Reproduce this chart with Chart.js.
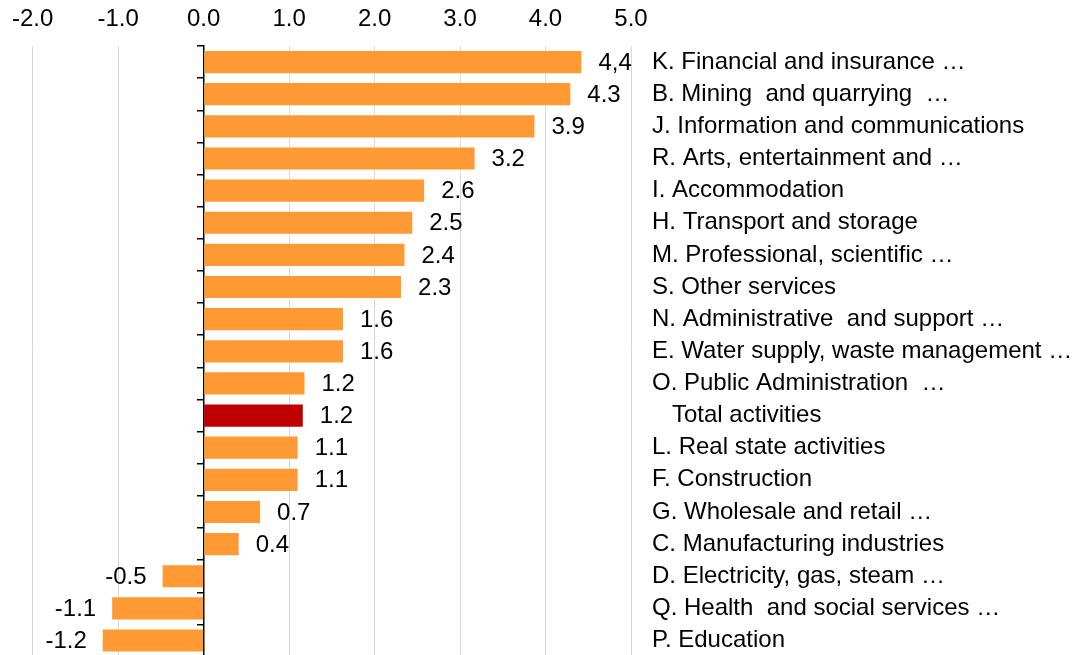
<!DOCTYPE html>
<html>
<head>
<meta charset="utf-8">
<script src="https://cdn.jsdelivr.net/npm/chart.js@4/dist/chart.umd.min.js"></script>
<style>
  html, body { margin: 0; padding: 0; background: #fff; overflow: hidden; }
  /* canvas is a little taller than the window: the scale padding below the
     last row is cut off so the bars run to the bottom edge like the original */
  #wrap { width: 1074px; height: 655px; overflow: hidden; }
</style>
</head>
<body>
<div id="wrap"><canvas id="chart" width="1074" height="684"></canvas></div>
<script>
// Sectors, top to bottom
const sectors = [
  'K. Financial and insurance \u2026',
  'B. Mining  and quarrying  \u2026',
  'J. Information and communications',
  'R. Arts, entertainment and \u2026',
  'I. Accommodation',
  'H. Transport and storage',
  'M. Professional, scientific \u2026',
  'S. Other services',
  'N. Administrative  and support \u2026',
  'E. Water supply, waste management \u2026',
  'O. Public Administration  \u2026',
  '   Total activities',
  'L. Real state activities',
  'F. Construction',
  'G. Wholesale and retail \u2026',
  'C. Manufacturing industries',
  'D. Electricity, gas, steam \u2026',
  'Q. Health  and social services \u2026',
  'P. Education'
];

// Growth values
const growth = [4.42, 4.29, 3.87, 3.17, 2.58, 2.44, 2.35, 2.31, 1.63, 1.63,
                1.18, 1.16, 1.10, 1.10, 0.66, 0.41, -0.48, -1.07, -1.18];

// Labels printed next to the bars
const valueLabels = ['4,4', '4.3', '3.9', '3.2', '2.6', '2.5', '2.4', '2.3', '1.6', '1.6',
                     '1.2', '1.2', '1.1', '1.1', '0.7', '0.4', '-0.5', '-1.1', '-1.2'];

const xTicks = [-2, -1, 0, 1, 2, 3, 4, 5];

const FONT = '"Liberation Sans", Arial, sans-serif';
const FONT_SIZE = 24;
const ORANGE = '#FF9933';
const TOTAL_RED = '#C00000';

const barColors = sectors.map(s => s.trim() === 'Total activities' ? TOTAL_RED : ORANGE);

// Draws the value next to the end of each bar
const valueLabelPlugin = {
  id: 'valueLabels',
  afterDatasetsDraw(chart) {
    const ctx = chart.ctx;
    const meta = chart.getDatasetMeta(0);
    const zero = chart.scales.x.getPixelForValue(0);
    ctx.save();
    ctx.font = FONT_SIZE + 'px ' + FONT;
    ctx.fillStyle = '#000';
    ctx.textBaseline = 'middle';
    meta.data.forEach((bar, i) => {
      const neg = bar.x < zero;
      ctx.textAlign = neg ? 'right' : 'left';
      ctx.fillText(valueLabels[i], neg ? bar.x - 16 : bar.x + 17, bar.y + 1);
    });
    ctx.restore();
  }
};

new Chart(document.getElementById('chart').getContext('2d'), {
  type: 'bar',
  data: {
    labels: sectors,
    datasets: [{
      data: growth,
      backgroundColor: barColors,
      borderWidth: 0,
      barPercentage: 0.69,
      categoryPercentage: 1
    }]
  },
  options: {
    indexAxis: 'y',
    responsive: false,
    animation: false,
    layout: { padding: { left: 30, right: 0, top: 0, bottom: 1 } },
    plugins: {
      legend: { display: false },
      tooltip: { enabled: false }
    },
    scales: {
      x: {
        position: 'top',
        min: -2,
        max: 5,
        afterBuildTicks: scale => { scale.ticks = xTicks.map(v => ({ value: v })); },
        afterFit: scale => { scale.height = 46; },
        grid: { color: '#d9d9d9', lineWidth: 1, drawTicks: false },
        border: { display: false },
        ticks: {
          padding: 12,
          color: '#000',
          font: { family: FONT, size: FONT_SIZE },
          callback: v => Number(v).toFixed(1)
        }
      },
      // zero line with the small tick marks between rows
      y: {
        position: { x: 0 },
        offset: true,
        afterFit: scale => { scale.width = 0; },
        grid: {
          offset: true,
          drawOnChartArea: false,
          drawTicks: true,
          tickLength: 6,
          color: '#000',
          lineWidth: 1.5
        },
        border: { display: true, color: '#000', width: 1.5 },
        ticks: { display: false }
      },
      // sector names on the right
      y2: {
        type: 'category',
        position: 'right',
        labels: sectors,
        offset: true,
        afterFit: scale => { scale.width = 443; },
        grid: { display: false },
        border: { display: false },
        ticks: {
          padding: 13,
          color: '#000',
          font: { family: FONT, size: FONT_SIZE }
        }
      }
    }
  },
  plugins: [valueLabelPlugin]
});
</script>
</body>
</html>
